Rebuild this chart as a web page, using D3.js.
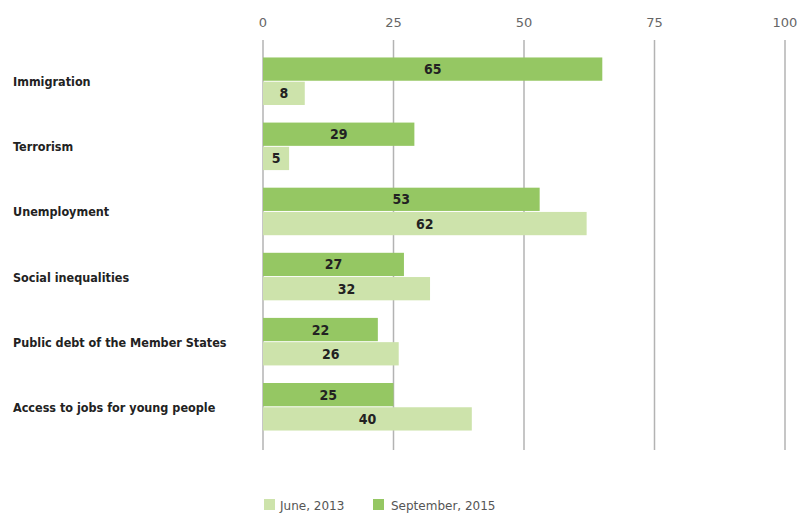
<!DOCTYPE html>
<html><head><meta charset="utf-8">
<script src="https://cdn.jsdelivr.net/npm/d3@7"></script>
<style>body{margin:0;background:#fff}</style>
</head><body><svg id="c" width="798" height="513"></svg>
<script>
const categories = ["Immigration","Terrorism","Unemployment","Social inequalities","Public debt of the Member States","Access to jobs for young people"];
const sep2015 = [65,29,53,27,22,25];
const jun2013 = [8,5,62,32,26,40];
const ticks = [0,25,50,75,100];
const seriesNames = ["June, 2013","September, 2015"];
const colLight = "#cde3ab", colDark = "#95c763";

const svg = d3.select("#c");
const x = d3.scaleLinear().domain([0,100]).range([263,785]);
const y = d3.scaleBand().domain(categories).range([49,439]).paddingInner(0.27).paddingOuter(0.13);
const sub = d3.scaleBand().domain(["s","j"]).range([0,y.bandwidth()]).paddingInner(0.04);

// grid
svg.append("g").selectAll("line").data(ticks).join("line")
  .attr("x1",d=>x(d)).attr("x2",d=>x(d)).attr("y1",40).attr("y2",450)
  .attr("stroke","#b3b3b3").attr("stroke-width",1.5);
svg.append("g").selectAll("text").data(ticks).join("text")
  .attr("x",d=>x(d)).attr("y",27).attr("text-anchor","middle")
  .attr("font-family","DejaVu Sans").attr("font-size",13).attr("fill","#666").text(d=>d);

const font = "'DejaVu Sans Condensed', 'DejaVu Sans', sans-serif";
categories.forEach((c,i)=>{
  const g = svg.append("g");
  const rows = [["s",sep2015[i],colDark],["j",jun2013[i],colLight]];
  rows.forEach(([k,v,col])=>{
    const y0 = y(c)+sub(k);
    g.append("rect").attr("x",x(0)).attr("y",y0).attr("width",x(v)-x(0)).attr("height",sub.bandwidth()).attr("fill",col);
    g.append("text").attr("x",(x(0)+x(v))/2).attr("y",y0+sub.bandwidth()/2+5)
      .attr("text-anchor","middle").attr("font-family",font).attr("font-weight","bold")
      .attr("font-size",14).attr("fill","#222").text(v);
  });
  svg.append("text").attr("x",13).attr("y",y(c)+y.bandwidth()/2+5)
    .attr("font-family",font).attr("font-weight","bold").attr("font-size",12.5).attr("fill","#222").text(c);
});

// legend
const lg = svg.append("g");
[[264,colLight,seriesNames[0],280],[373,colDark,seriesNames[1],391]].forEach(([lx,col,t,tx])=>{
  lg.append("rect").attr("x",lx).attr("y",499).attr("width",11).attr("height",11).attr("fill",col);
  lg.append("text").attr("x",tx).attr("y",509.5).attr("font-family","DejaVu Sans").attr("font-size",12).attr("fill","#555").text(t);
});
</script></body></html>
